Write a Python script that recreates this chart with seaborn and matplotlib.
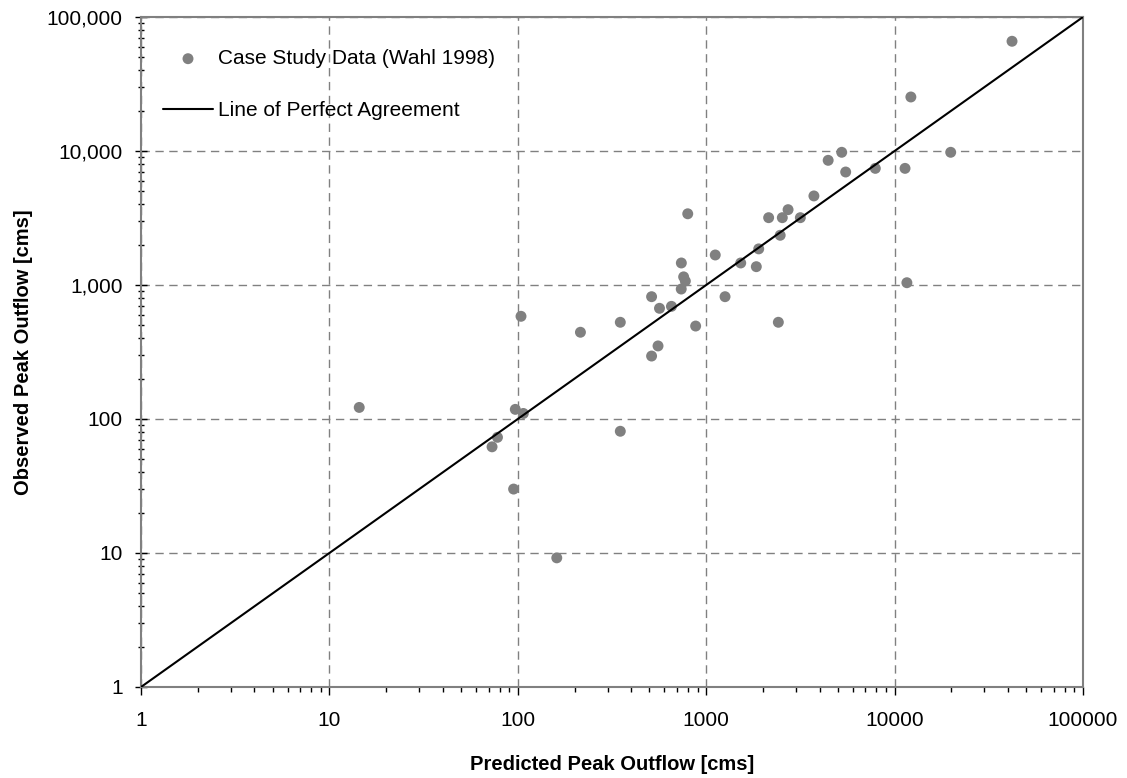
import matplotlib
matplotlib.use("Agg")
import matplotlib.pyplot as plt
import matplotlib.ticker as mticker
import seaborn as sns
import pandas as pd

# ----------------------------------------
# Data
# ----------------------------------------
predicted = [14.4, 104, 215, 350, 513, 565, 654, 737, 738, 759, 775, 798,
             1259, 879, 555, 513, 97, 107, 78, 73, 95, 350, 161,
             5240, 4440, 5500, 7900, 11360, 19850, 11620, 3730, 2720,
             2535, 2145, 3160, 2470, 1900, 1525, 1845, 1117, 2415,
             42000, 12200]
observed = [122, 584, 444, 527, 818, 670, 693, 933, 1460, 1150, 1070, 3400,
            818, 494, 351, 295, 118, 110, 73, 62, 30, 81, 9.2,
            9780, 8520, 6970, 7420, 7420, 9780, 1040, 4620, 3650,
            3180, 3180, 3180, 2350, 1860, 1460, 1370, 1675, 527,
            65900, 25300]

line_x = [1, 100000]
line_y = [1, 100000]

x_ticks = [1, 10, 100, 1000, 10000, 100000]
x_labels = ["1", "10", "100", "1000", "10000", "100000"]
y_ticks = [1, 10, 100, 1000, 10000, 100000]
y_labels = ["1", "10", "100", "1,000", "10,000", "100,000"]

df = pd.DataFrame({"predicted": predicted, "observed": observed})
line_df = pd.DataFrame({"x": line_x, "y": line_y})

# ----------------------------------------
# Style
# ----------------------------------------
sns.set_style("white")
plt.rcParams['font.family'] = ['Liberation Sans', 'DejaVu Sans']
plt.rcParams['text.color'] = 'black'
plt.rcParams['axes.labelcolor'] = 'black'
plt.rcParams['xtick.labelcolor'] = 'black'
plt.rcParams['ytick.labelcolor'] = 'black'

fig = plt.figure(figsize=(11.27, 7.78), dpi=100)
ax = fig.add_axes([141 / 1127, 1 - 687 / 778, 942 / 1127, 670 / 778])

sns.scatterplot(data=df, x="predicted", y="observed", ax=ax, color="#808080",
                s=62, edgecolor="none", label="Case Study Data (Wahl 1998)",
                zorder=3)
sns.lineplot(data=line_df, x="x", y="y", ax=ax, color="black", linewidth=1.5,
             label="Line of Perfect Agreement", zorder=4)

ax.set_xscale("log")
ax.set_yscale("log")
ax.set_xlim(1, 100000)
ax.set_ylim(1, 100000)

ax.set_xticks(x_ticks)
ax.set_xticklabels(x_labels)
ax.set_yticks(y_ticks)
ax.set_yticklabels(y_labels)
ax.xaxis.set_minor_locator(mticker.LogLocator(base=10, subs=range(2, 10)))
ax.yaxis.set_minor_locator(mticker.LogLocator(base=10, subs=range(2, 10)))
ax.xaxis.set_minor_formatter(mticker.NullFormatter())
ax.yaxis.set_minor_formatter(mticker.NullFormatter())

ax.tick_params(axis="x", which="major", direction="out", length=5.5, width=1,
               color="black", labelsize=15, pad=12, bottom=True)
ax.tick_params(axis="x", which="minor", direction="out", length=3.6, width=1,
               color="black", bottom=True)
ax.tick_params(axis="y", which="major", direction="inout", length=8.5, width=1,
               color="black", labelsize=15, pad=9, left=True)
ax.tick_params(axis="y", which="minor", direction="inout", length=5, width=1,
               color="black", left=True)

ax.grid(True, which="major", linestyle=(0, (6, 4)), color="#808080", linewidth=1)
for side in ["top", "right", "left", "bottom"]:
    ax.spines[side].set_color("#808080")
    ax.spines[side].set_linewidth(1.5)
    ax.spines[side].set_visible(True)

ax.set_xlabel("Predicted Peak Outflow [cms]", fontsize=14.5, fontweight="bold",
              labelpad=18)
ax.set_ylabel("Observed Peak Outflow [cms]", fontsize=14.5, fontweight="bold",
              labelpad=10)

ax.legend(loc="upper left", bbox_to_anchor=(22 / 942, 0.952), frameon=False,
          fontsize=15, handlelength=2.4, handletextpad=0.25,
          labelspacing=1.6, borderpad=0, borderaxespad=0)

fig.savefig("out.png", dpi=100)
